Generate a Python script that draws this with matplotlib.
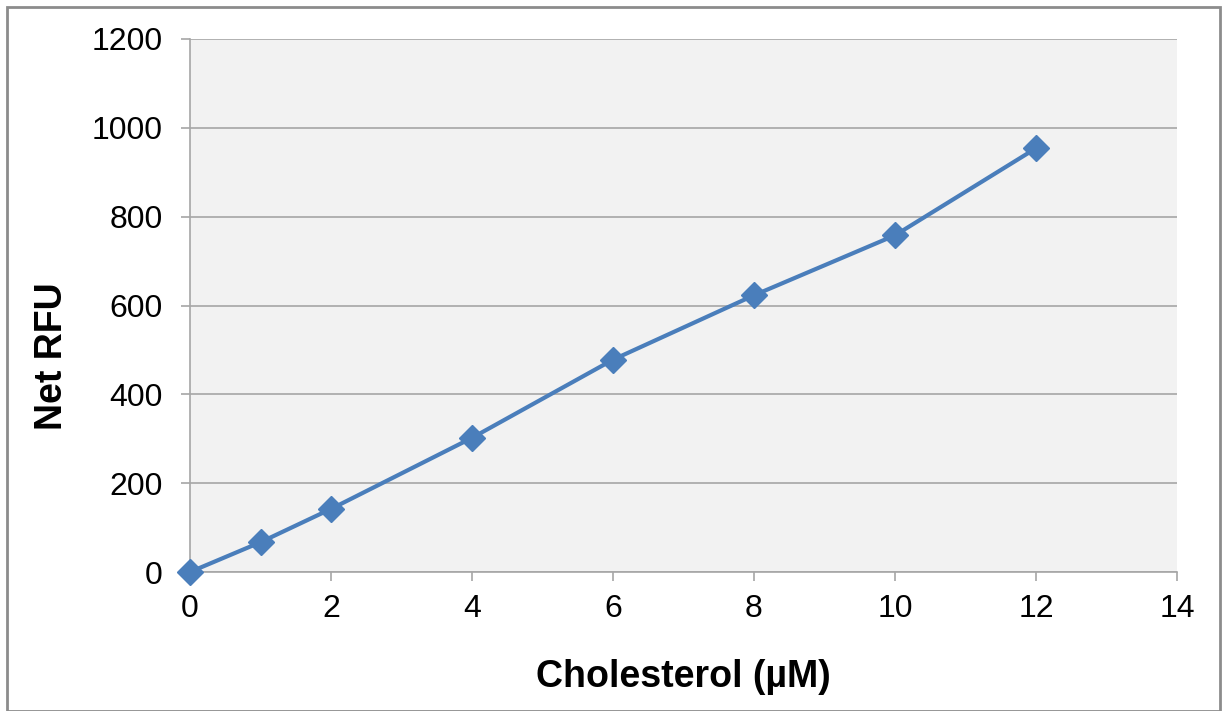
import matplotlib
matplotlib.use("Agg")
from matplotlib import pyplot as plt
from matplotlib.patches import Rectangle

colesterol = [0, 1, 2, 4, 6, 8, 10, 12]
net_rfu = [0, 67, 142, 302, 478, 623, 758, 954]
x_ticks = [0, 2, 4, 6, 8, 10, 12, 14]
y_ticks = [0, 200, 400, 600, 800, 1000, 1200]

plt.rcParams['font.family'] = ['Liberation Sans', 'DejaVu Sans']

fig = plt.figure(figsize=(12.22, 7.11), dpi=100)
ax = fig.add_axes([190 / 1222, 1 - 572 / 711, 987 / 1222, 533 / 711])

# borda externa do gráfico
fig.patches.append(Rectangle((7 / 1222, 0), 1 - 9 / 1222, 1 - 7 / 711,
                             transform=fig.transFigure, fill=False,
                             edgecolor='#8c8c8c', linewidth=2))

ax.set_facecolor('#f2f2f2')
ax.plot(colesterol, net_rfu, color='#4a7ebb', linewidth=3,
        marker='D', markersize=13, clip_on=False, zorder=3)

ax.set_xlim(0, 14)
ax.set_ylim(0, 1200)
ax.set_xticks(x_ticks)
ax.set_yticks(y_ticks)
ax.grid(axis='y', color='#a6a6a6', linewidth=1.2)
ax.set_axisbelow(True)

for lado in ['top', 'right']:
  ax.spines[lado].set_visible(False)
for lado in ['left', 'bottom']:
  ax.spines[lado].set_color('#a6a6a6')
  ax.spines[lado].set_linewidth(1.2)

ax.tick_params(axis='both', direction='out', length=6.5, width=1.2,
               color='#a6a6a6', labelsize=23)
ax.tick_params(axis='y', pad=13)
ax.tick_params(axis='x', pad=9)

ax.set_xlabel("Cholesterol (µM)", fontsize=27, fontweight='bold', va='center')
ax.set_ylabel("Net RFU", fontsize=27, fontweight='bold', va='center')
ax.xaxis.set_label_coords(0.5, (572 - 677) / 533)
ax.yaxis.set_label_coords((52 - 190) / 987, (572 - 356) / 533)

fig.savefig("out.png", dpi=100)
